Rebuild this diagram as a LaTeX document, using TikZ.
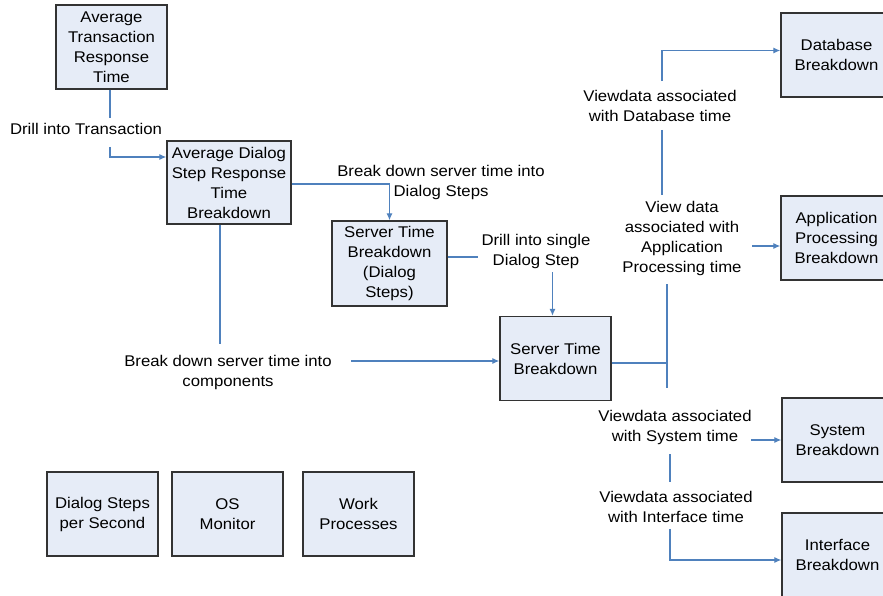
\documentclass[tikz,border=0pt]{standalone}
\usepackage{fontspec}
\setmainfont[FakeStretch=1.08]{Liberation Sans}
\usetikzlibrary{arrows.meta,calc}
\definecolor{boxfill}{HTML}{E6ECF7}
\definecolor{linkblue}{HTML}{4F81BD}
\definecolor{boxline}{HTML}{333333}

\begin{document}
\begin{tikzpicture}[x=1pt,y=-1pt,
  every node/.style={font=\fontsize{15.5}{20}\selectfont},
  box/.style={draw=boxline,line width=1.3pt,fill=boxfill,align=center,
    inner sep=0pt,minimum width=111pt,minimum height=84pt},
  lbl/.style={align=center,inner sep=3pt},
  link/.style={draw=linkblue,line width=1.2pt},
  arr/.style={-{Latex[length=7pt,width=6pt]}}]

\fill[white] (0,0) rectangle (883,595);
\useasboundingbox (0,0) rectangle (883,595);

% boxes
\node[box] (atrt) at (111.5,47) {Average\\Transaction\\Response\\Time};
\node[box,minimum width=124pt,minimum height=83pt] (adsrt) at (229,182.5)
  {Average Dialog\\Step Response\\Time\\Breakdown};
\node[box,minimum width=115pt,minimum height=85pt] (stbds) at (389.5,263.5)
  {Server Time\\Breakdown\\(Dialog\\Steps)};
\node[box] (stb) at (555.5,358.5) {Server Time\\Breakdown};
\node[box] (db) at (836.5,55) {Database\\Breakdown};
\node[box] (app) at (836.5,238) {Application\\Processing\\Breakdown};
\node[box] (sys) at (837.5,440) {System\\Breakdown};
\node[box] (intf) at (837.5,555) {Interface\\Breakdown};
\node[box] (dsps) at (102.5,514) {Dialog Steps\\per Second};
\node[box] (osm) at (227.5,514) {OS\\Monitor};
\node[box] (wp) at (358.5,514) {Work\\Processes};

% connector labels
\node[lbl] (l1) at (86,129) {Drill into Transaction};
\node[lbl] (l2) at (441,182) {Break down server time into\\Dialog Steps};
\node[lbl] (l3) at (228,372) {Break down server time into\\components};
\node[lbl] (l4) at (536,251) {Drill into single\\Dialog Step};
\node[lbl] (ldb) at (660,106) {Viewdata associated\\with Database time};
\node[lbl] (lapp) at (682,238) {View data\\associated with\\Application\\Processing time};
\node[lbl] (lsys) at (675,427) {Viewdata associated\\with System time};
\node[lbl] (lint) at (676,507) {Viewdata associated\\with Interface time};

% trunk positions on the right
\coordinate (t1) at (662,0);
\coordinate (t2) at (667,0);
\coordinate (t3) at (670,0);

% connectors
\draw[link] ($(atrt.south)+(-1.5,0)$) -- ($(atrt.south |- l1.north)+(-1.5,-2)$);
\draw[link,arr] ($(atrt.south |- l1.south)+(-1.5,9)$) |- ($(adsrt.west)+(0,-25.5)$);

\draw[link,arr] ($(adsrt.east)+(0,1.5)$) -| (stbds.north);

\draw[link] ($(adsrt.south)+(-9,0)$) -- ($(adsrt.south |- l3.north)+(-9,-8)$);
\draw[link,arr] ($(stb.west)+(-148,2.5)$) -- ($(stb.west)+(0,2.5)$);

\draw[link] ($(stbds.east)+(0,-6.5)$) -- ($(stbds.east -| l4.west)+(0,-6.5)$);
\draw[link,arr] ($(l4.south -| stb.north)+(-3,1)$) -- ($(stb.north)+(-3,0)$);

\draw[link] ($(stb.east)+(0,4.5)$) -- ($(stb.east -| t2)+(0,4.5)$);

\draw[link,arr] ($(ldb.north -| t1)+(0,-6)$) |- ($(db.west)+(0,-4.5)$);
\draw[link] ($(ldb.south -| t1)+(0,5)$) -- ($(lapp.north -| t1)+(0,-3)$);
\draw[link] ($(lapp.south -| t2)+(0,6)$) -- ($(lsys.north -| t2)+(0,-19)$);
\draw[link,arr] ($(app.west)+(-28,8)$) -- ($(app.west)+(0,8)$);
\draw[link,arr] ($(sys.west)+(-30,0)$) -- (sys.west);
\draw[link] ($(lsys.south -| t3)+(0,7)$) -- ($(lint.north -| t3)+(0,-6)$);
\draw[link,arr] ($(lint.south -| t3)+(0,3)$) |- ($(intf.west)+(0,5)$);

\end{tikzpicture}
\end{document}
